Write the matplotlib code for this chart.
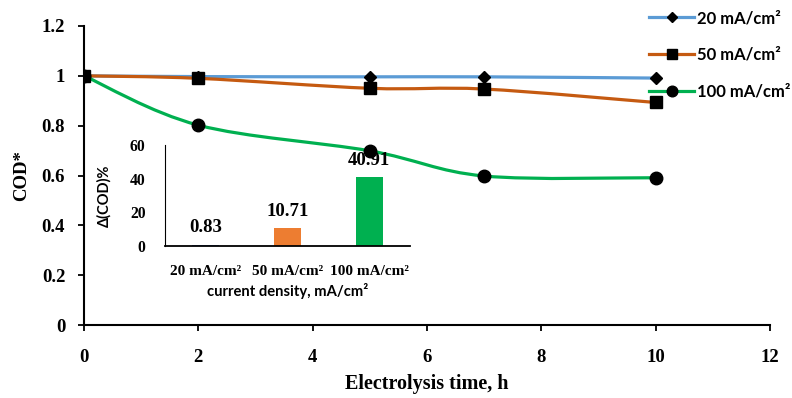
import matplotlib
matplotlib.use("Agg")
import matplotlib.pyplot as plt
from matplotlib.path import Path
from matplotlib.patches import PathPatch
from matplotlib.lines import Line2D
import numpy as np

# ---------------- data ----------------
time_h = [0, 2, 5, 7, 10]
cod_20 = [1.0, 0.997, 0.996, 0.996, 0.991]
cod_50 = [1.0, 0.990, 0.950, 0.947, 0.893]
cod_100 = [1.0, 0.802, 0.699, 0.598, 0.591]
series_labels = ["20 mA/cm²", "50 mA/cm²", "100 mA/cm²"]

inset_categories = ["20 mA/cm²", "50 mA/cm²", "100 mA/cm²"]
inset_values = [0.83, 10.71, 40.91]
inset_value_labels = ["0.83", "10.71", "40.91"]

x_ticks = [0, 2, 4, 6, 8, 10, 12]
y_ticks = [0, 0.2, 0.4, 0.6, 0.8, 1.0, 1.2]
inset_y_ticks = [0, 20, 40, 60]

line_colors = ["#5B9BD5", "#C55A11", "#00B050"]
bar_colors = ["#4472C4", "#ED7D31", "#00B050"]
markers = ["D", "s", "o"]
marker_sizes = [6.5, 9, 9]

SERIF = "Liberation Serif"
SANS = "Lato"


def smooth_path(xs, ys):
    """Excel-like smoothed line through data points as cubic Bezier path."""
    pts = np.column_stack([xs, ys]).astype(float)
    n = len(pts)
    verts = [pts[0]]
    codes = [Path.MOVETO]
    for i in range(n - 1):
        p0 = pts[i - 1] if i > 0 else pts[i]
        p1 = pts[i]
        p2 = pts[i + 1]
        p3 = pts[i + 2] if i + 2 < n else pts[i + 1]
        c1 = p1 + (p2 - p0) / 6.0
        c2 = p2 - (p3 - p1) / 6.0
        verts += [c1, c2, p2]
        codes += [Path.CURVE4] * 3
    return Path(verts, codes)


fig = plt.figure(figsize=(7.92, 3.98), dpi=100)
ax = fig.add_axes([84 / 792, 1 - 325 / 398, 686 / 792, 299 / 398])

all_series = [cod_20, cod_50, cod_100]
handles = []
for ys, col, mk, ms, lab in zip(all_series, line_colors, markers, marker_sizes, series_labels):
    patch = PathPatch(smooth_path(time_h, ys), facecolor="none", edgecolor=col,
                      lw=2.3, zorder=2, capstyle="round")
    ax.add_patch(patch)
    ax.plot(time_h, ys, linestyle="none", marker=mk, markersize=ms,
            color="black", zorder=3)
    handles.append(Line2D([0], [0], color=col, lw=2.3, marker=mk,
                          markersize=ms * 0.85, markerfacecolor="black",
                          markeredgecolor="black"))

ax.set_xlim(0, 12)
ax.set_ylim(0, 1.2)
ax.set_xticks(x_ticks)
ax.set_yticks(y_ticks)
ax.set_xticklabels([f"{v:g}" for v in x_ticks])
ax.set_yticklabels([f"{v:g}" for v in y_ticks])
for lab in ax.get_xticklabels() + ax.get_yticklabels():
    lab.set_fontfamily(SERIF)
    lab.set_fontweight("bold")
    lab.set_fontsize(13.5)
ax.tick_params(axis="both", direction="out", length=4.5, width=1.3, color="black")
ax.tick_params(axis="x", pad=13)
ax.tick_params(axis="y", pad=9)
for s in ["top", "right"]:
    ax.spines[s].set_visible(False)
for s in ["left", "bottom"]:
    ax.spines[s].set_linewidth(1.5)
ax.set_xlabel("Electrolysis time, h", fontfamily=SERIF, fontweight="bold", fontsize=14.5)
ax.xaxis.set_label_coords(0.5, -0.165)
ax.set_ylabel("COD*", fontfamily=SERIF, fontweight="bold", fontsize=13.5)
ax.yaxis.set_label_coords(-0.078, 0.5)

fig.legend(handles, series_labels, loc="upper left",
           bbox_to_anchor=(649 / 792, 1 - 10 / 398), frameon=False,
           prop={"family": SANS, "weight": "bold", "size": 12},
           handlelength=2.7, handletextpad=0.2, labelspacing=1.25,
           borderpad=0, borderaxespad=0)

# ---------------- inset ----------------
ax2 = fig.add_axes([165 / 792, 1 - 246 / 398, 245 / 792, 101 / 398])
ax2.patch.set_visible(False)
xpos = np.arange(len(inset_categories))
ax2.bar(xpos, inset_values, width=0.33, color=bar_colors, zorder=2)
for xp, v, t in zip(xpos, inset_values, inset_value_labels):
    ax2.annotate(t, (xp, v), xytext=(0, 6), textcoords="offset points",
                 ha="center", va="bottom", fontfamily=SERIF, fontweight="bold",
                 fontsize=13.5)
ax2.set_xlim(-0.5, 2.5)
ax2.set_ylim(0, 60)
ax2.set_yticks(inset_y_ticks)
ax2.set_yticklabels([str(v) for v in inset_y_ticks])
ax2.set_xticks(xpos)
ax2.set_xticklabels(inset_categories)
for lab in ax2.get_yticklabels():
    lab.set_fontfamily(SERIF)
    lab.set_fontweight("bold")
    lab.set_fontsize(11.3)
for lab in ax2.get_xticklabels():
    lab.set_fontfamily(SERIF)
    lab.set_fontweight("bold")
    lab.set_fontsize(11)
ax2.tick_params(axis="both", length=0)
ax2.tick_params(axis="x", pad=14)
ax2.tick_params(axis="y", pad=14)
for s in ["top", "right"]:
    ax2.spines[s].set_visible(False)
ax2.spines["left"].set_linewidth(0.8)
ax2.spines["bottom"].set_linewidth(1.3)
ax2.set_ylabel("Δ(COD)%", fontfamily=SANS, fontweight="bold", fontsize=10.5)
ax2.yaxis.set_label_coords(-0.22, 0.5)
ax2.set_xlabel("current density, mA/cm²", fontfamily=SANS, fontweight="bold", fontsize=10.6)
ax2.xaxis.set_label_coords(0.5, -0.37)

fig.savefig("out.png", dpi=100)
